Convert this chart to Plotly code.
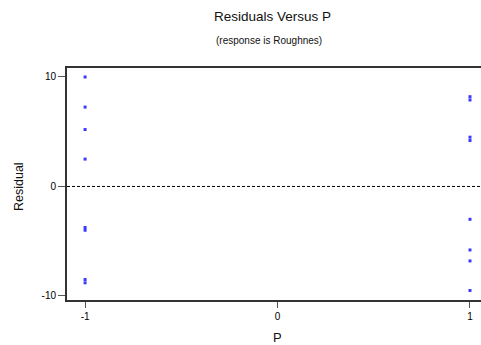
import plotly.graph_objects as go

p_values = [-1, -1, -1, -1, -1, -1, -1, -1, 1, 1, 1, 1, 1, 1, 1, 1]
residuals = [10.0, 7.25, 5.2, 2.5, -3.75, -4.0, -8.5, -8.8,
             8.2, 7.9, 4.5, 4.2, -3.0, -5.8, -6.8, -9.5]
x_ticks = [-1, 0, 1]
y_ticks = [-10, 0, 10]

# Plot area extends past the right edge of the 481px window, as in the reference
W, H = 490, 345
L, R, T, B = 67, 0, 68, 45
PW, PH = W - L - R, H - T - B
font = "Liberation Sans, Arial, sans-serif"


def px(x, y):
    return (x - L) / PW, (H - B - y) / PH


fig = go.Figure()
fig.add_trace(go.Scatter(
    x=p_values, y=residuals, mode="markers",
    marker=dict(symbol="square", size=3, color="#3a3aff", line=dict(width=0)),
    showlegend=False, hoverinfo="skip", cliponaxis=False))

fig.add_shape(type="line", xref="paper", x0=0, x1=1, yref="y", y0=0, y1=0,
              line=dict(color="black", width=1, dash="3px,2px"))

fig.update_layout(
    width=W, height=H,
    margin=dict(l=L, r=R, t=T, b=B, autoexpand=False),
    paper_bgcolor="white", plot_bgcolor="white",
    font=dict(family=font, color="black", size=10),
)

texts = [
    ("Residuals Versus P", 272, 17, 13.5, 0),
    ("(response is Roughnes)", 269, 40, 10, 0),
    ("P", 277, 337, 13, 0),
    ("Residual", 19, 187, 12.5, -90),
]
for text, x, y, size, ang in texts:
    ax, ay = px(x, y)
    fig.add_annotation(text=text, x=ax, y=ay, xref="paper", yref="paper",
                       showarrow=False, xanchor="center", yanchor="middle",
                       textangle=ang, font=dict(size=size, family=font, color="#111"))

fig.update_xaxes(
    range=[-1.094, 1.104], tickvals=x_ticks, ticktext=[str(v) for v in x_ticks],
    showgrid=False, zeroline=False, showline=True, linecolor="#333", linewidth=2,
    mirror=True, ticks="outside", ticklen=6, tickcolor="#555", tickwidth=1,
    automargin=False,
)
fig.update_yaxes(
    range=[-10.37, 10.82], tickvals=y_ticks, ticktext=[str(v) for v in y_ticks],
    showgrid=False, zeroline=False, showline=True, linecolor="#333", linewidth=2,
    mirror=False, ticks="outside", ticklen=7, tickcolor="#555", tickwidth=1,
    automargin=False,
)

fig.write_html(
    "out.html",
    config={"displayModeBar": False},
    post_script="document.body.style.margin='0px';document.body.style.overflow='hidden';",
)
